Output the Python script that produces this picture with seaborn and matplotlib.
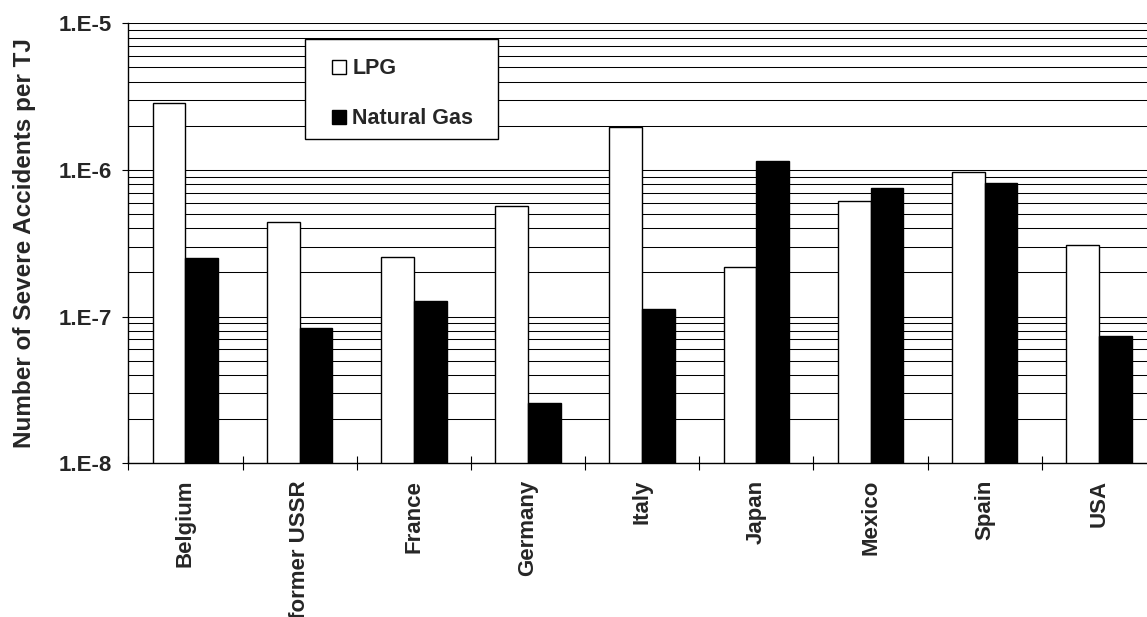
import numpy as np
import pandas as pd
import matplotlib
matplotlib.use("Agg")
import matplotlib.pyplot as plt
import seaborn as sns
from matplotlib.patches import Patch, Rectangle
from matplotlib.legend_handler import HandlerPatch
from matplotlib.ticker import FixedLocator, FuncFormatter, LogLocator, NullFormatter

countries = ["Belgium", "former USSR", "France", "Germany", "Italy",
             "Japan", "Mexico", "Spain", "USA"]
lpg = [2.88e-6, 4.44e-7, 2.56e-7, 5.71e-7, 1.97e-6, 2.19e-7, 6.18e-7, 9.74e-7, 3.10e-7]
natural_gas = [2.50e-7, 8.41e-8, 1.28e-7, 2.57e-8, 1.13e-7, 1.16e-6, 7.57e-7, 8.15e-7, 7.35e-8]
series = ["LPG", "Natural Gas"]
y_label = "Number of Severe Accidents per TJ"

df = pd.DataFrame({
    "Country": countries * 2,
    "Fuel": [series[0]] * len(countries) + [series[1]] * len(countries),
    "Value": lpg + natural_gas,
})

sns.set_style("white")
plt.rcParams["font.family"] = ["Liberation Sans", "DejaVu Sans"]
plt.rcParams["font.weight"] = "bold"

fig = plt.figure(figsize=(11.47, 6.17), dpi=100)
ax = fig.add_axes([0.1119, 0.2491, 0.896, 0.7131])
ax.set_axisbelow(True)
ax.set_yscale("log")

sns.barplot(data=df, x="Country", y="Value", hue="Fuel", order=countries,
            hue_order=series, palette={"LPG": "white", "Natural Gas": "black"},
            width=0.573, edgecolor="black", linewidth=1.0, ax=ax,
            legend=False, errorbar=None)

ax.set_ylim(1e-8, 1e-5)
ax.set_xlim(-0.5, len(countries) - 0.5)

# y axis
ax.yaxis.set_major_locator(LogLocator(base=10, numticks=10))
ax.yaxis.set_minor_locator(LogLocator(base=10, subs=np.arange(2, 10), numticks=100))
ax.yaxis.set_major_formatter(FuncFormatter(lambda v, p: f"1.E{int(round(np.log10(v)))}"))
ax.yaxis.set_minor_formatter(NullFormatter())
ax.grid(True, which="both", axis="y", color="black", linewidth=0.75)
ax.tick_params(axis="y", which="major", left=True, length=4, width=0.8,
               direction="out", pad=8, labelsize=16, color="black")
ax.tick_params(axis="y", which="minor", left=False)

# x axis
ax.xaxis.set_minor_locator(FixedLocator(np.arange(-0.5, len(countries), 1.0)))
ax.tick_params(axis="x", which="major", bottom=False, length=0, pad=12, labelsize=16)
ax.tick_params(axis="x", which="minor", bottom=True, length=10, width=0.8,
               direction="inout", color="black")
plt.setp(ax.get_xticklabels(), rotation=90, fontweight="bold", va="top")
plt.setp(ax.get_yticklabels(), fontweight="bold")

ax.set_xlabel("")
ax.set_ylabel(y_label, fontsize=17.5, fontweight="bold", labelpad=16)

for s in ["top", "right"]:
    ax.spines[s].set_visible(False)
for s in ["left", "bottom"]:
    ax.spines[s].set_color("black")
    ax.spines[s].set_linewidth(1.0)

# legend frame
ax.add_patch(Rectangle((0.1722, 0.7364), 0.1875, 0.2272, transform=ax.transAxes,
                       facecolor="white", edgecolor="black", linewidth=1.0,
                       zorder=4, clip_on=False))


def square_patch(legend, orig_handle, xdescent, ydescent, width, height, fontsize):
    return Rectangle((-xdescent + width - height, -ydescent), height, height)


handles = [Patch(facecolor="white", edgecolor="black", linewidth=1.0),
           Patch(facecolor="black", edgecolor="black", linewidth=1.0)]
leg = ax.legend(handles, series, loc="center left",
                bbox_to_anchor=(0.1992, 0.840),
                prop={"size": 15.5, "weight": "bold"}, frameon=False,
                handlelength=0.62, handleheight=0.62,
                handletextpad=0.28, labelspacing=1.35, borderpad=0, borderaxespad=0,
                handler_map={Patch: HandlerPatch(patch_func=square_patch)})
leg.set_zorder(5)

fig.savefig("out.png", dpi=100)
